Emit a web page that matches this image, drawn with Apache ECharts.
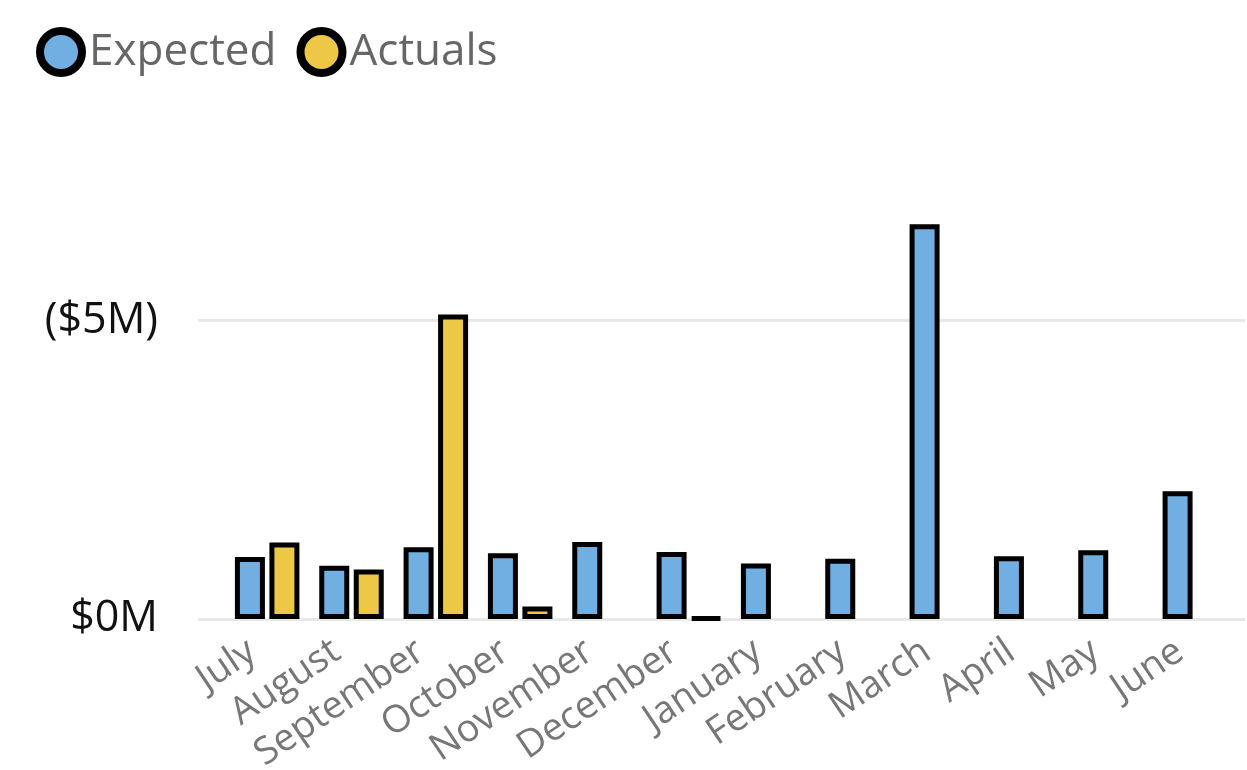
<!DOCTYPE html>
<html>
<head>
<meta charset="utf-8">
<script src="https://cdn.jsdelivr.net/npm/echarts@6/dist/echarts.min.js"></script>
<style>
  html, body { margin: 0; padding: 0; background: #fff; }
  #main { width: 1247px; height: 770px; }
</style>
</head>
<body>
<div id="main"></div>
<script>
// values in $M
var months = ['July', 'August', 'September', 'October', 'November', 'December',
  'January', 'February', 'March', 'April', 'May', 'June'];
var expected = [1.04, 0.89, 1.20, 1.10, 1.29, 1.12, 0.93, 1.01, 6.61, 1.05, 1.15, 2.14];
var actuals = [1.28, 0.83, 5.10, 0.21, null, 0.02, null, null, null, null, null, null];
var tickLabels = { 0: '$0M', 5: '($5M)' };

var font = '"Segoe UI", "Open Sans", sans-serif';
var blue = '#71AFE2';
var yellow = '#ECC846';

var myChart = echarts.init(document.getElementById('main'));
myChart.setOption({
  animation: false,
  legend: {
    left: 31,
    top: 22,
    itemWidth: 42,
    itemHeight: 42,
    itemGap: 20,
    icon: 'circle',
    itemStyle: { borderColor: '#000', borderWidth: 8 },
    textStyle: { fontFamily: font, fontSize: 44, color: '#666', padding: [0, 0, 0, 2] },
    data: ['Expected', 'Actuals']
  },
  grid: [
    { left: 225, right: 10, top: 201, bottom: 151, outerBoundsMode: 'none' },
    { left: 198, right: 2, top: 201, bottom: 151, outerBoundsMode: 'none' }
  ],
  xAxis: [
    {
      type: 'category',
      gridIndex: 0,
      data: months,
      axisLine: { show: false },
      axisTick: { show: false },
      axisLabel: {
        rotate: 34,
        margin: 19,
        padding: [0, 18, 0, 0],
        interval: 0,
        fontFamily: font,
        fontSize: 38,
        color: '#777'
      }
    },
    {
      type: 'category',
      gridIndex: 1,
      data: months,
      show: false
    }
  ],
  yAxis: [
    {
      type: 'value',
      gridIndex: 0,
      min: 0,
      max: 7,
      interval: 5,
      show: false,
      splitLine: { show: false }
    },
    {
      type: 'value',
      gridIndex: 1,
      min: 0,
      max: 7,
      interval: 5,
      axisLine: { show: false },
      axisTick: { show: false },
      axisLabel: {
        margin: 40,
        showMaxLabel: false,
        fontFamily: font,
        fontSize: 43,
        color: '#111',
        formatter: function (v) { return tickLabels[v] || ''; }
      },
      splitLine: { showMaxLine: false, lineStyle: { color: '#E8E8E8', width: 3 } }
    }
  ],
  series: [
    {
      name: 'Expected',
      type: 'bar',
      xAxisIndex: 0,
      yAxisIndex: 0,
      barWidth: 30,
      barGap: '15%',
      itemStyle: { color: blue, borderColor: '#000', borderWidth: 5 },
      data: expected
    },
    {
      name: 'Actuals',
      type: 'bar',
      xAxisIndex: 0,
      yAxisIndex: 0,
      barWidth: 30,
      barGap: '15%',
      itemStyle: { color: yellow, borderColor: '#000', borderWidth: 5 },
      data: actuals
    }
  ]
});
</script>
</body>
</html>
